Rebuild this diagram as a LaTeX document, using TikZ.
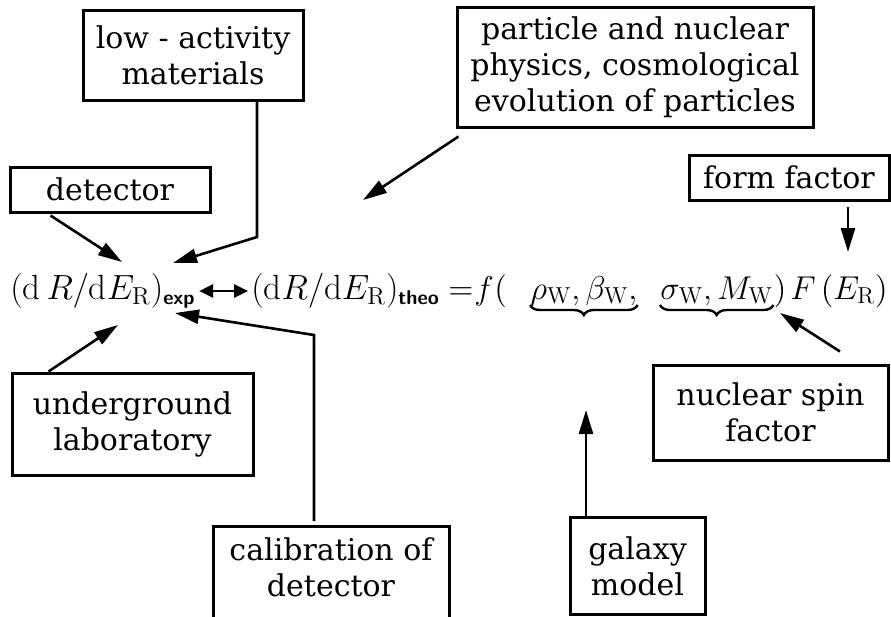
\RequirePackage{fix-cm}
\documentclass[tikz,border=0pt]{standalone}
\usepackage{fontspec}
\newfontfamily\labfont{DejaVu Serif}
\usetikzlibrary{arrows.meta,decorations.pathreplacing}
\newcommand{\subsf}[1]{\mbox{\fontsize{10}{10}\selectfont\sffamily\bfseries #1}}
\begin{document}
\begin{tikzpicture}[x=0.5pt,y=-0.5pt,
  box/.style={draw, line width=1.5pt, align=center, inner sep=0pt, font=\labfont\fontsize{15}{18}\selectfont},
  lab/.style={align=center, inner sep=0pt, font=\labfont\fontsize{15}{18}\selectfont},
  arr/.style={line width=1.3pt, -{Triangle[length=12pt,width=7pt]}},
  dbl/.style={line width=1.3pt, {Triangle[length=7pt,width=6.5pt]}-{Triangle[length=7pt,width=6.5pt]}},
  mth/.style={inner sep=0pt, font=\fontsize{17.5}{20}\selectfont},
  mtr/.style={inner sep=0pt, font=\fontsize{16.5}{20}\selectfont},
  brc/.style={decorate, decoration={brace, mirror, amplitude=5pt}, line width=1.2pt}
]
\clip (0,0) rectangle (891,617);

% boxes
\node[box, minimum width=110pt, minimum height=45pt] (lowact) at (193,55) {low - activity\\materials};
\node[box, minimum width=178pt, minimum height=60pt] (part) at (635,67) {particle and nuclear\\physics, cosmological\\evolution of particles};
\node[box, minimum width=100pt, minimum height=22.5pt] (det) at (110,189.5) {detector};
\node[box, minimum width=100pt, minimum height=22.5pt] (ff) at (789,177.5) {form factor};
\node[box, minimum width=120.5pt, minimum height=51pt] (ug) at (132.5,424) {underground\\laboratory};
\node[box, minimum width=117.5pt, minimum height=47.5pt] (nuc) at (770.5,412.5) {nuclear spin\\factor};
\node[box, minimum width=67.5pt, minimum height=48.5pt] (gal) at (637.5,566) {galaxy\\model};
\node[draw, line width=1.5pt, minimum width=118pt, minimum height=70pt, anchor=north, inner sep=0pt] (cal) at (331,525) {};
\node[lab] (calt) at (331,567) {calibration of\\detector};

% formula
\node[mth, anchor=base west] (exp) at (10,299) {$(\mathrm{d}\,R/\mathrm{d}E_{\mathrm{R}})_{\subsf{exp}}$};
\node[mth, anchor=base west] (theo) at (251,299) {$(\mathrm{d}R/\mathrm{d}E_{\mathrm{R}})_{\subsf{theo}}$};
\node[mtr, anchor=base west] (eq) at (448,299) {$=$};
\node[mtr, anchor=base west] (fn) at (474,299) {$f$};
\node[mtr, anchor=base west] (lp) at (494,299) {$($};
\node[mtr, anchor=base west] (g1) at (530,299) {$\rho_{\mathrm{W}},\beta_{\mathrm{W}},$};
\node[mtr, anchor=base west] (g2) at (660,299) {$\sigma_{\mathrm{W}},M_{\mathrm{W}}$};
\node[mtr, anchor=base west] (rp) at (g2.base east) {$)$};
\node[mtr, anchor=base west] (Fn) at (790,299) {$F$};
\node[mtr, anchor=base east] (ER) at (888,299) {$(E_{\mathrm{R}})$};

\draw[brc] ([yshift=-3pt]g1.base west) -- ([yshift=-3pt]g1.base east);
\draw[brc] ([yshift=-3pt]g2.base west) -- ([yshift=-3pt]g2.base east);

\draw[dbl, shorten <=1.5pt, shorten >=1.5pt] ([yshift=4pt]exp.base east) -- ([yshift=4pt]theo.base west);

% arrow targets
\coordinate (tDet) at (122,262);
\coordinate (tLa) at (173,263);
\coordinate (laBend) at (257,237);
\coordinate (tPart) at (363,200);
\coordinate (tFF) at (848,252);
\coordinate (tNuc) at (780,313);
\coordinate (tGal) at (586,410);
\coordinate (tCal) at (175,313);
\coordinate (cBend) at (314,335);
\coordinate (tUg) at (118,325);
\coordinate (ffs) at ([yshift=-2.5pt]ff.south);
\coordinate (cals) at ([yshift=2pt]cal.north);

% connectors
\draw[arr] ([xshift=21pt,yshift=-1pt]det.south west) -- (tDet);
\draw[arr] (laBend |- lowact.south) -- (laBend) -- (tLa);
\draw[arr] ([xshift=1.5pt,yshift=-4pt]part.south west) -- (tPart);
\draw[arr] (ffs -| tFF) -- (tFF);
\draw[arr] ([xshift=34.75pt,yshift=6pt]nuc.north) -- (tNuc);
\draw[arr] (gal.north -| tGal) -- (tGal);
\draw[arr] (cals -| cBend) -- (cBend) -- (tCal);
\draw[arr] ([xshift=19pt]ug.north west) -- (tUg);
\end{tikzpicture}
\end{document}
